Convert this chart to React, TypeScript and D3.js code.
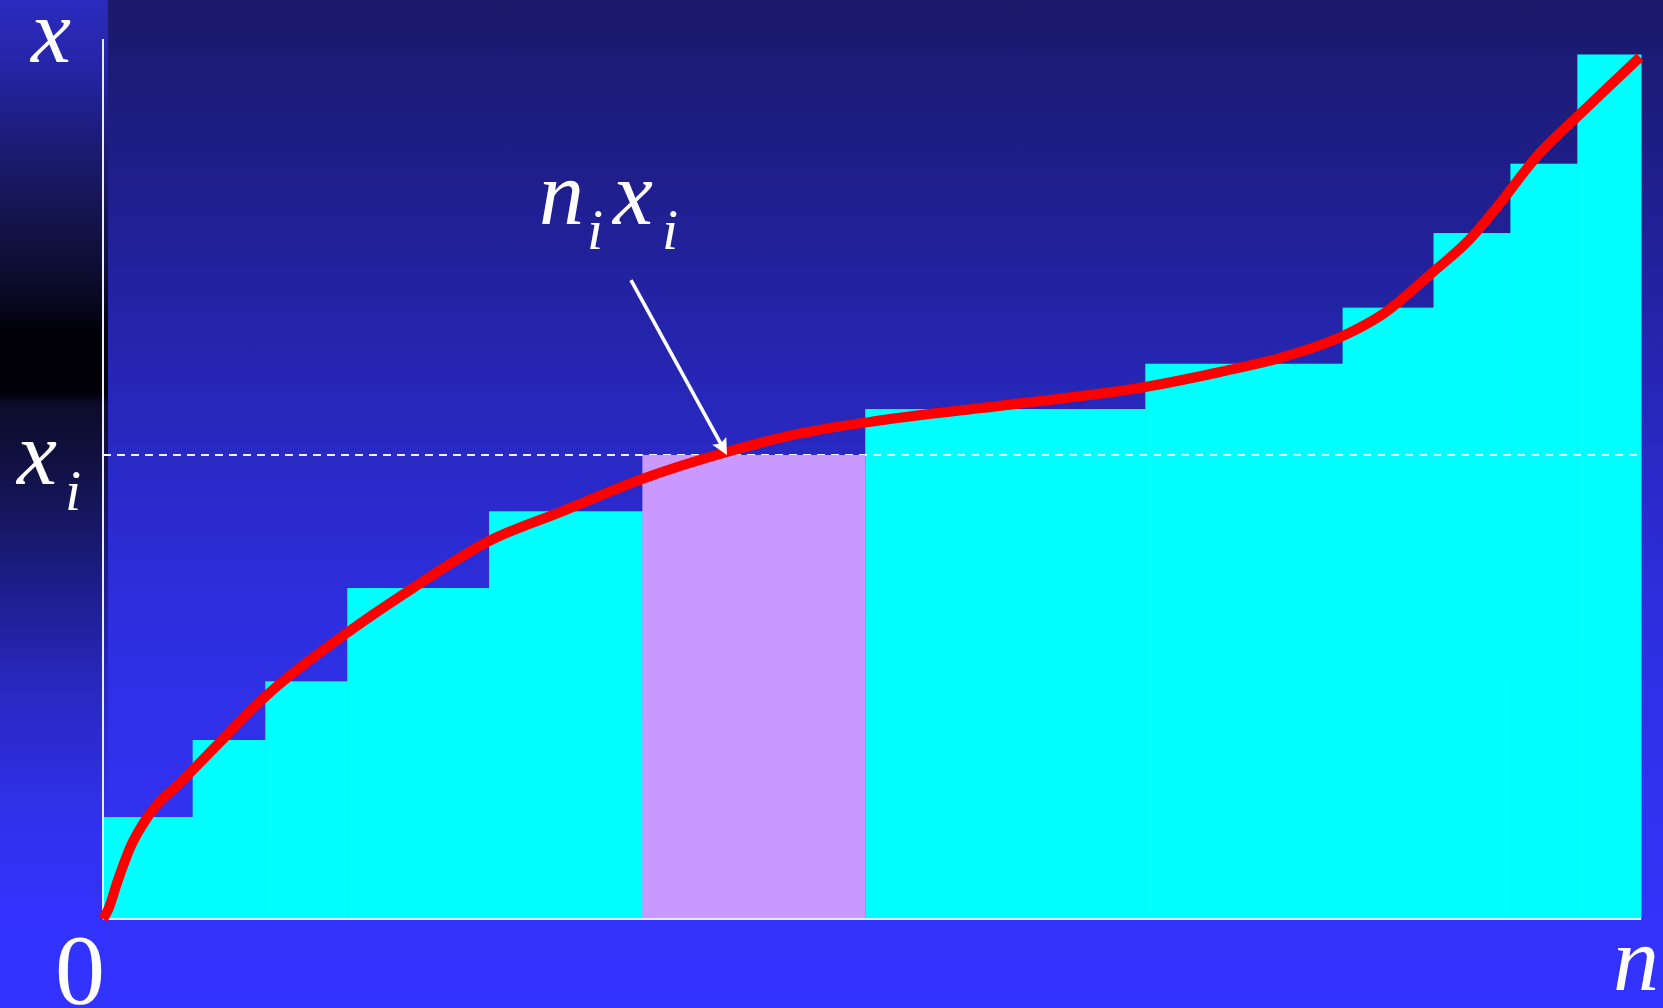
import React from "react";
import * as d3 from "d3";

// ---- data ----
const binEdges = [0, 5.83, 10.55, 15.88, 25.1, 35.07, 49.56, 67.77, 80.6, 86.51, 91.51, 95.86, 100];
const binHeights = [11.59, 20.34, 27.01, 37.61, 46.33, 52.73, 57.95, 63.1, 69.47, 77.95, 85.83, 98.24];
const highlightIndex = 5;

const curveN = [0, 0.325, 0.975, 1.755, 2.99, 5.2, 7.61, 10.53, 15.86, 20.16, 25.1, 29.91, 35.05, 40.57, 45.51, 50.72, 58.78, 67.75, 72.63, 76.53, 80.62, 83.03, 86.48, 88.88, 90.38, 93.43, 95.84, 99.93];
const curveX = [0, 1.02, 4.43, 8.07, 11.82, 15.8, 20.11, 25.23, 32.5, 37.61, 42.95, 46.36, 50.0, 53.07, 55.23, 56.7, 58.41, 60.45, 62.16, 63.75, 66.25, 68.52, 73.52, 77.27, 80.34, 87.05, 91.14, 97.95];

// annotation arrow (data units): start -> tip
const arrowFrom = [34.33, 72.61];
const arrowTo = [40.57, 52.73];

const W = 1663;
const H = 1008;

export default function App() {
  React.useEffect(() => {
    document.body.style.margin = "0";
  }, []);

  const xS = d3.scaleLinear().domain([0, 100]).range([103, 1641]);
  const yS = d3.scaleLinear().domain([0, 100]).range([919, 39]);

  const pts: [number, number][] = curveN.map((n, i) => [n, curveX[i]]);
  const line = d3
    .line<[number, number]>()
    .x((d) => xS(d[0]))
    .y((d) => yS(d[1]))
    .curve(d3.curveMonotoneX);

  const ax0 = xS(arrowFrom[0]);
  const ay0 = yS(arrowFrom[1]);
  const ax1 = xS(arrowTo[0]);
  const ay1 = yS(arrowTo[1]);
  const ang = Math.atan2(ay1 - ay0, ax1 - ax0);
  const headLen = 16;
  const headHalf = 8;
  const bx = ax1 - headLen * Math.cos(ang);
  const by = ay1 - headLen * Math.sin(ang);
  const px = -Math.sin(ang);
  const py = Math.cos(ang);
  const head = `M${ax1},${ay1} L${bx + px * headHalf},${by + py * headHalf} L${bx + (ax1 - bx) * 0.18},${by + (ay1 - by) * 0.18} L${bx - px * headHalf},${by - py * headHalf} Z`;

  const serifStyle: React.CSSProperties = {
    fontFamily: '"Liberation Serif", "Times New Roman", Times, serif',
  };
  const hl = binHeights[highlightIndex];

  return (
    <div style={{ position: "absolute", left: 0, top: 0 }}>
      <svg width={W} height={H} style={{ display: "block" }}>
        <defs>
          <linearGradient id="mainBg" x1="0" y1="0" x2="0" y2={H} gradientUnits="userSpaceOnUse">
            <stop offset="0" stopColor="#1a196a" />
            <stop offset="0.2" stopColor="#201f90" />
            <stop offset="0.43" stopColor="#2828c0" />
            <stop offset="0.6" stopColor="#2e2ede" />
            <stop offset="0.85" stopColor="#3232f5" />
            <stop offset="1" stopColor="#3333ff" />
          </linearGradient>
          <linearGradient id="sideBg" x1="0" y1="0" x2="0" y2={H} gradientUnits="userSpaceOnUse">
            <stop offset="0" stopColor="#2a2abd" />
            <stop offset="0.06" stopColor="#2626aa" />
            <stop offset="0.12" stopColor="#1e1e84" />
            <stop offset="0.18" stopColor="#181860" />
            <stop offset="0.25" stopColor="#10103c" />
            <stop offset="0.31" stopColor="#060618" />
            <stop offset="0.33" stopColor="#000006" />
            <stop offset="0.39" stopColor="#000006" />
            <stop offset="0.4" stopColor="#0c0c2a" />
            <stop offset="0.45" stopColor="#10103e" />
            <stop offset="0.5" stopColor="#15155a" />
            <stop offset="0.59" stopColor="#1e1e90" />
            <stop offset="0.68" stopColor="#2828c0" />
            <stop offset="0.8" stopColor="#3030e8" />
            <stop offset="0.92" stopColor="#3333ff" />
            <stop offset="1" stopColor="#3333ff" />
          </linearGradient>
        </defs>

        <rect x={0} y={0} width={W} height={H} fill="url(#mainBg)" />
        <rect x={0} y={0} width={108} height={H} fill="url(#sideBg)" />

        {binHeights.map((h, i) =>
          i === highlightIndex ? null : (
            <rect
              key={i}
              x={xS(binEdges[i])}
              y={yS(h)}
              width={xS(binEdges[i + 1]) - xS(binEdges[i]) + 0.5}
              height={yS(0) - yS(h)}
              fill="#00ffff"
            />
          )
        )}

        <line x1={xS(0)} x2={xS(100)} y1={yS(hl)} y2={yS(hl)} stroke="#eef2ff" strokeWidth={2} strokeDasharray="8,6" />

        <rect
          x={xS(binEdges[highlightIndex])}
          y={yS(hl)}
          width={xS(binEdges[highlightIndex + 1]) - xS(binEdges[highlightIndex])}
          height={yS(0) - yS(hl)}
          fill="#c999ff"
        />

        <line x1={xS(0)} x2={xS(0)} y1={yS(100)} y2={yS(0)} stroke="#e6ecff" strokeWidth={2} />
        <line x1={xS(0)} x2={xS(100)} y1={yS(0)} y2={yS(0)} stroke="#e6ecff" strokeWidth={2} />

        <path d={line(pts) || ""} fill="none" stroke="#ff0000" strokeWidth={10} strokeLinecap="butt" strokeLinejoin="round" />

        <line x1={ax0} y1={ay0} x2={bx + (ax1 - bx) * 0.3} y2={by + (ay1 - by) * 0.3} stroke="#ffffff" strokeWidth={3.6} />
        <path d={head} fill="#ffffff" />

        <g fill="#fff" style={serifStyle}>
          <text x={51} y={62} fontStyle="italic" fontSize={90} textAnchor="middle">x</text>
          <text x={17} y={484} fontStyle="italic" fontSize={90}>x</text>
          <text x={65} y={510} fontStyle="italic" fontSize={58}>i</text>
          <text x={80} y={1003} fontSize={100} textAnchor="middle">0</text>
          <text x={1659} y={990} fontStyle="italic" fontSize={92} textAnchor="end">n</text>
          <text x={539} y={224} fontStyle="italic" fontSize={90}>n</text>
          <text x={587} y={249} fontStyle="italic" fontSize={58}>i</text>
          <text x={613} y={224} fontStyle="italic" fontSize={90}>x</text>
          <text x={662} y={249} fontStyle="italic" fontSize={58}>i</text>
        </g>
      </svg>
    </div>
  );
}
